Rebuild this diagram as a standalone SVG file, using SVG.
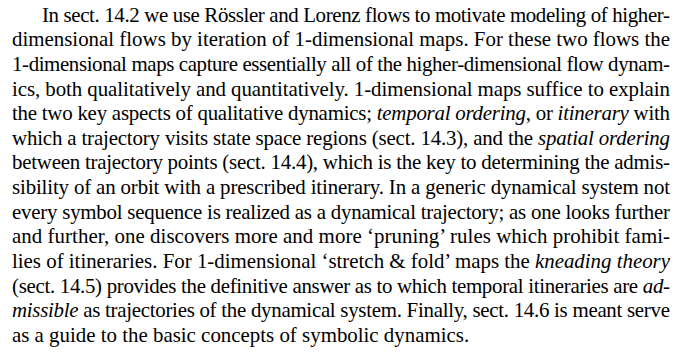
<svg xmlns="http://www.w3.org/2000/svg" width="677" height="357" viewBox="0 0 677 357">
<style>
text{font-family:"Liberation Serif","Times New Roman",serif;font-size:20.9px;fill:#000}
.i{font-style:italic}
</style>
<rect width="677" height="357" fill="#fff"/>
<g id="paragraph">
<text x="42" y="21.7" textLength="628" lengthAdjust="spacing">In sect. 14.2 we use Rössler and Lorenz flows to motivate modeling of higher-</text>
<text x="12" y="46.3" textLength="658" lengthAdjust="spacing">dimensional flows by iteration of 1-dimensional maps. For these two flows the</text>
<text x="12" y="70.9" textLength="658" lengthAdjust="spacing">1-dimensional maps capture essentially all of the higher-dimensional flow dynam-</text>
<text x="12" y="95.5" textLength="658" lengthAdjust="spacing">ics, both qualitatively and quantitatively. 1-dimensional maps suffice to explain</text>
<text x="12" y="120.2" textLength="658" lengthAdjust="spacing">the two key aspects of qualitative dynamics; <tspan class="i">temporal ordering</tspan>, or <tspan class="i">itinerary</tspan> with</text>
<text x="12" y="144.8" textLength="658" lengthAdjust="spacing">which a trajectory visits state space regions (sect. 14.3), and the <tspan class="i">spatial ordering</tspan></text>
<text x="12" y="169.4" textLength="658" lengthAdjust="spacing">between trajectory points (sect. 14.4), which is the key to determining the admis-</text>
<text x="12" y="194.0" textLength="658" lengthAdjust="spacing">sibility of an orbit with a prescribed itinerary. In a generic dynamical system not</text>
<text x="12" y="218.6" textLength="658" lengthAdjust="spacing">every symbol sequence is realized as a dynamical trajectory; as one looks further</text>
<text x="12" y="243.2" textLength="658" lengthAdjust="spacing">and further, one discovers more and more ‘pruning’ rules which prohibit fami-</text>
<text x="12" y="267.9" textLength="658" lengthAdjust="spacing">lies of itineraries. For 1-dimensional ‘stretch &amp; fold’ maps the <tspan class="i">kneading theory</tspan></text>
<text x="12" y="292.5" textLength="658" lengthAdjust="spacing">(sect. 14.5) provides the definitive answer as to which temporal itineraries are <tspan class="i">ad-</tspan></text>
<text x="12" y="317.1" textLength="658" lengthAdjust="spacing"><tspan class="i">missible</tspan> as trajectories of the dynamical system. Finally, sect. 14.6 is meant serve</text>
<text x="12" y="341.7">as a guide to the basic concepts of symbolic dynamics.</text>
</g>
</svg>
